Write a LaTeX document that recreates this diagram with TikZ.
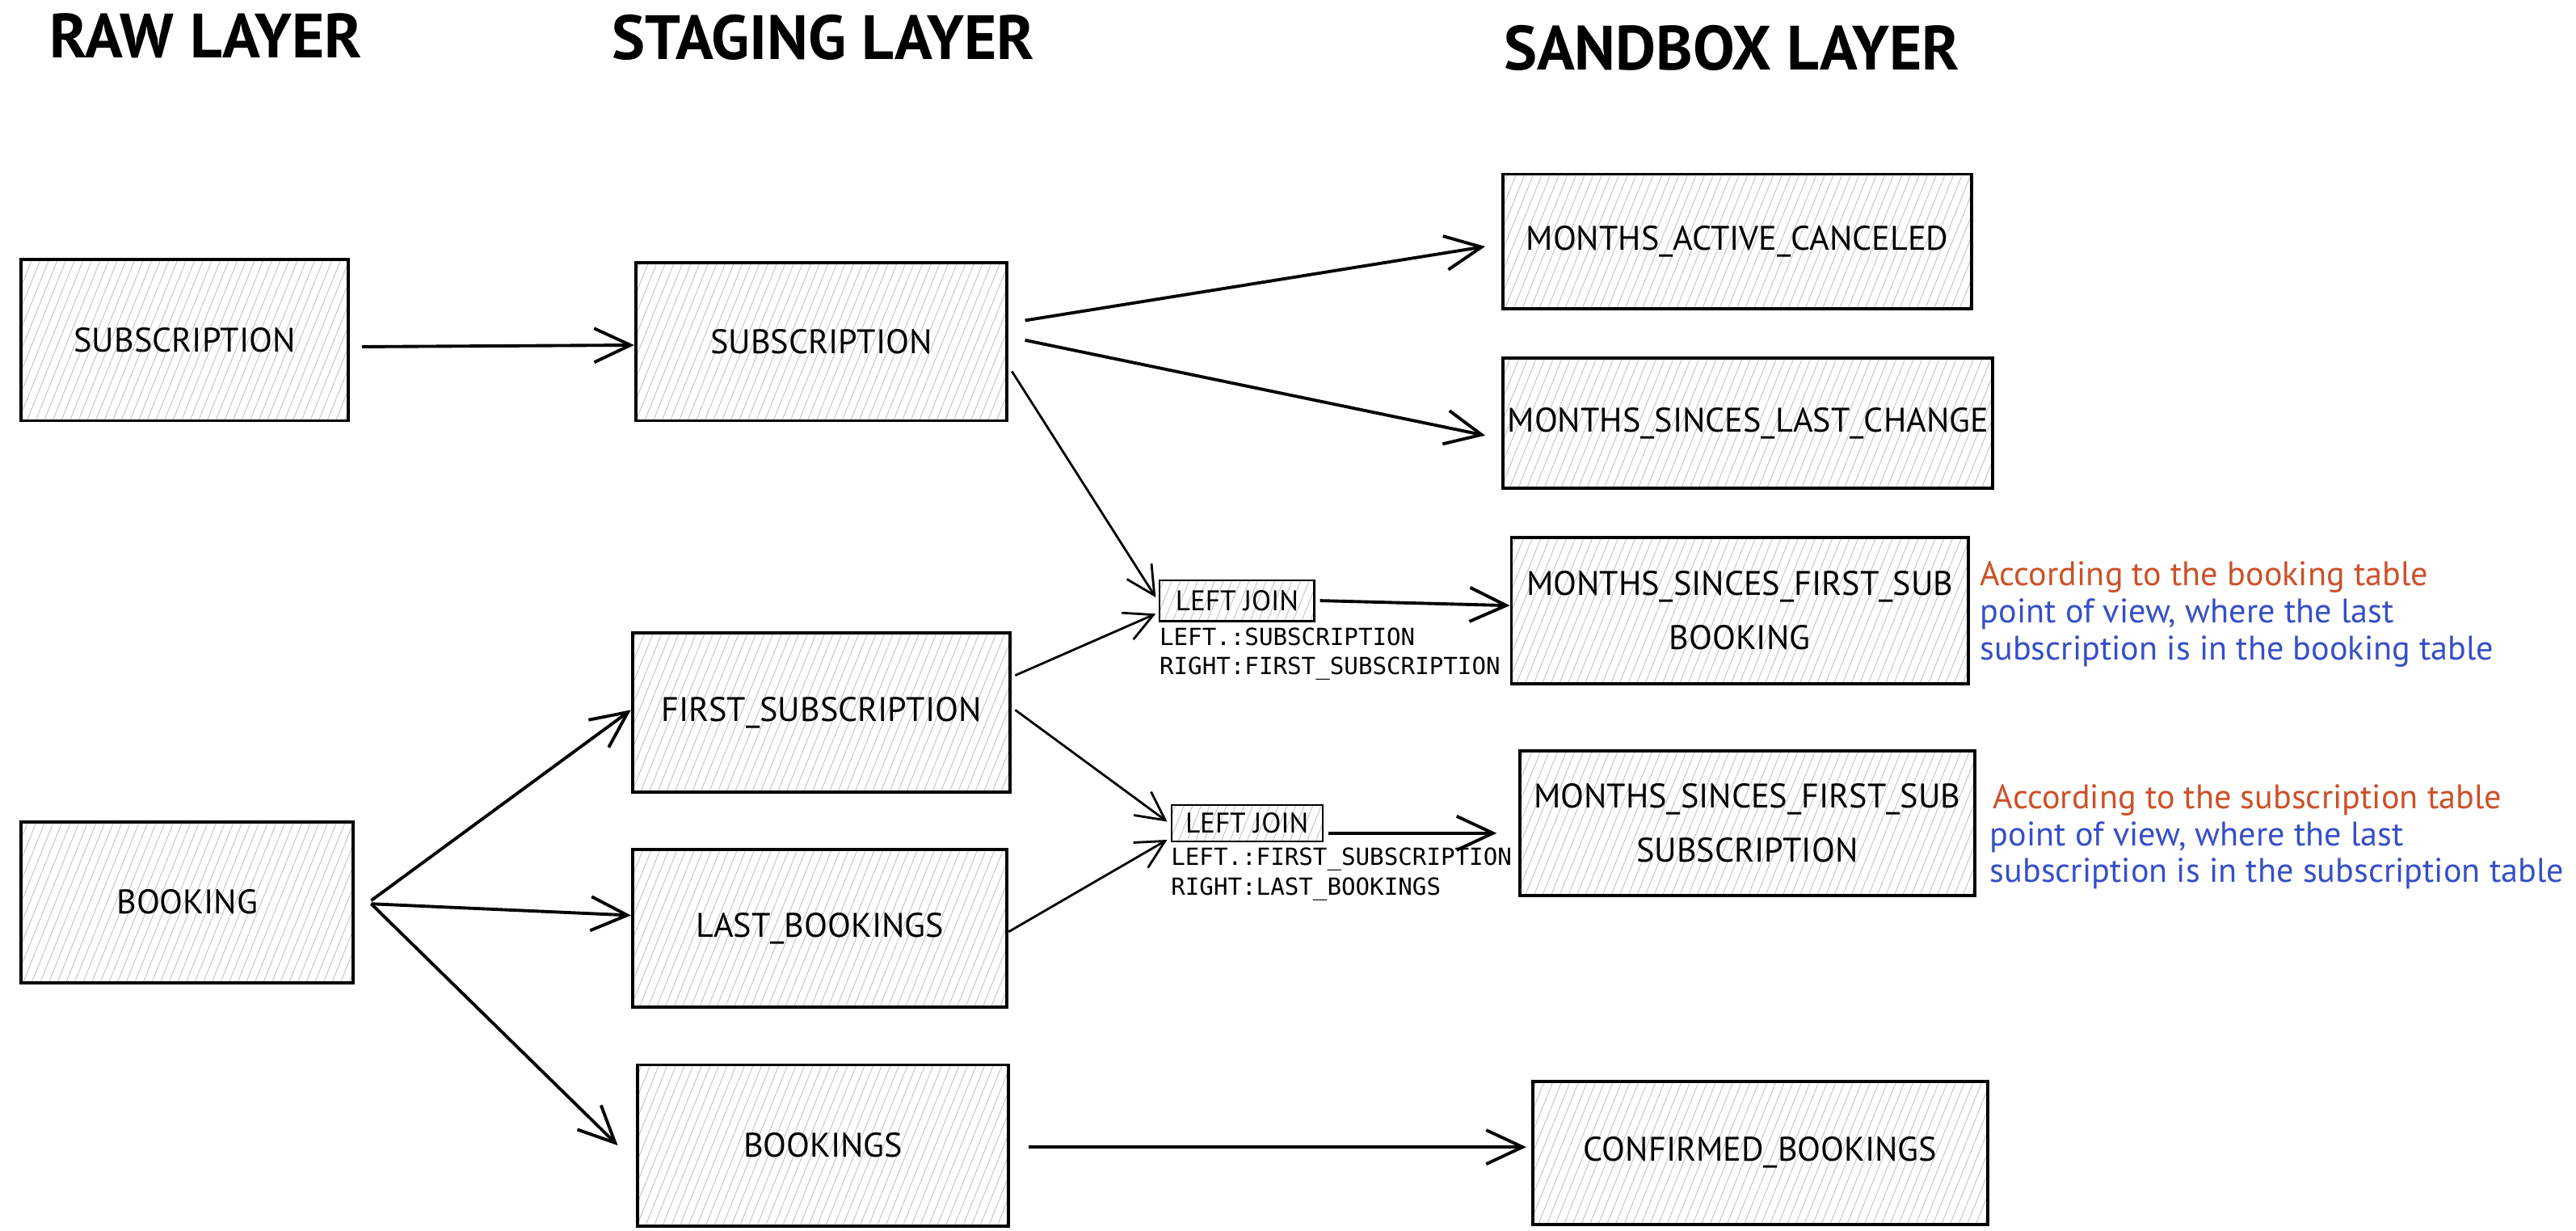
\documentclass[tikz,border=0pt]{standalone}
\usepackage{fontspec}
\setmainfont{PT Sans}
\newfontfamily\hand{PT Sans}
\newfontfamily\monof{DejaVu Sans Mono}
\usetikzlibrary{arrows.meta,patterns.meta}
\definecolor{hatch}{RGB}{196,201,208}
\definecolor{anorange}{RGB}{205,80,40}
\definecolor{anblue}{RGB}{54,79,199}
\begin{document}
\begin{tikzpicture}[x=0.020332cm,y=-0.020332cm,
  tbl/.style={draw=black, line width=1.1pt, pattern={Lines[angle=68,distance=2.8pt,line width=0.3pt]}, pattern color=hatch, inner sep=0pt, font=\hand\fontsize{12}{19}\selectfont, align=center},
  sz/.style 2 args={minimum width=#1*0.020332cm, minimum height=#2*0.020332cm},
  ljbox/.style={draw=black, line width=0.6pt, pattern={Lines[angle=68,distance=2.8pt,line width=0.3pt]}, pattern color=hatch, inner sep=0pt, font=\hand\fontsize{10}{11}\selectfont},
  arr/.style={-{Straight Barb[length=0.45cm,width=0.42cm,line width=1.1pt]}, line width=1.1pt},
  sarr/.style={-{Straight Barb[length=0.35cm,width=0.36cm,line width=0.8pt]}, line width=0.8pt},
  ttl/.style={font=\hand\fontsize{22}{26}\selectfont\bfseries, anchor=west, inner sep=0pt},
  mono/.style={font=\monof\fontsize{8.3}{10.4}\selectfont, align=left, anchor=north west, inner sep=0pt},
  note/.style={font=\hand\fontsize{12}{13}\selectfont, anchor=base west, inner sep=0pt}
]
\useasboundingbox (0,0) rectangle (1568,749);
% titles
\node[ttl] (t1) at (30,22) {RAW LAYER};
\node[ttl] (t2) at (372,23) {STAGING LAYER};
\node[ttl] (t3) at (915,29) {SANDBOX LAYER};
% raw
\node[tbl, sz={199}{98}] (rsub) at (112.5,207) {SUBSCRIPTION};
\node[tbl, sz={202}{98}] (rbook) at (114,549) {BOOKING};
% staging
\node[tbl, sz={226}{96}] (ssub) at (500,208) {SUBSCRIPTION};
\node[tbl, sz={230}{97}] (fsub) at (500,433.5) {FIRST\_SUBSCRIPTION};
\node[tbl, sz={228}{96}] (lbook) at (499,565) {LAST\_BOOKINGS};
\node[tbl, sz={226}{98}] (sbook) at (501,697) {BOOKINGS};
% sandbox
\node[tbl, sz={285}{82}] (mac) at (1057.5,147) {MONTHS\_ACTIVE\_CANCELED};
\node[tbl, sz={298}{79}] (mslc) at (1064,257.5) {MONTHS\_SINCES\_LAST\_CHANGE};
\node[tbl, sz={278}{89}] (mfsb) at (1059,371.5) {MONTHS\_SINCES\_FIRST\_SUB\\BOOKING};
\node[tbl, sz={277}{88}] (mfss) at (1063.5,501) {MONTHS\_SINCES\_FIRST\_SUB\\SUBSCRIPTION};
\node[tbl, sz={277}{87}] (cb) at (1071.5,701.5) {CONFIRMED\_BOOKINGS};
% joins
\node[ljbox, sz={94}{25}] (lj1) at (753,365.5) {LEFT JOIN};
\node[ljbox, sz={92}{22}] (lj2) at (759,501) {LEFT JOIN};
\node[mono] (m1) at ([shift={(0,3)}]lj1.south west) {LEFT.:SUBSCRIPTION\\RIGHT:FIRST\_SUBSCRIPTION};
\node[mono] (m2) at ([shift={(0,3)}]lj2.south west) {LEFT.:FIRST\_SUBSCRIPTION\\RIGHT:LAST\_BOOKINGS};
% notes
\node[note, text=anorange] (n1a) at (1205,356.5) {According to the booking table};
\node[note, text=anblue] (n1b) at (1205,379) {point of view, where the last};
\node[note, text=anblue] (n1c) at (1205,401.5) {subscription is in the booking table};
\node[note, text=anorange] (n2a) at (1213,492) {According to the subscription table};
\node[note, text=anblue] (n2b) at (1211,514.5) {point of view, where the last};
\node[note, text=anblue] (n2c) at (1211,537) {subscription is in the subscription table};
% arrows
\draw[arr] ([shift={(8,4)}]rsub.east) -- ([shift={(0,2)}]ssub.west);
\draw[arr] ([shift={(10,-13)}]ssub.east) -- ([shift={(-10,3)}]mac.west);
\draw[arr] ([shift={(10,-1)}]ssub.east) -- ([shift={(-10,7.5)}]mslc.west);
\draw[sarr] ([shift={(2,18)}]ssub.east) -- ([shift={(-2,-2)}]lj1.west);
\draw[sarr] ([shift={(2,-22.5)}]fsub.east) -- ([shift={(-2,8)}]lj1.west);
\draw[arr] ([shift={(3,0)}]lj1.east) -- ([shift={(0,-3)}]mfsb.west);
\draw[sarr] ([shift={(2,-1.5)}]fsub.east) -- ([shift={(-2,-1)}]lj2.west);
\draw[sarr] ([shift={(0,2)}]lbook.east) -- ([shift={(-2,10)}]lj2.west);
\draw[arr] ([shift={(3,6)}]lj2.east) -- ([shift={(-13,6)}]mfss.west);
\draw[arr] ([shift={(10,-1)}]rbook.east) -- ([shift={(0,-1.5)}]fsub.west);
\draw[arr] ([shift={(10,1)}]rbook.east) -- ([shift={(0,-8)}]lbook.west);
\draw[arr] ([shift={(10,1)}]rbook.east) -- ([shift={(-11,0)}]sbook.west);
\draw[arr] ([shift={(11,1)}]sbook.east) -- ([shift={(-3,-3.5)}]cb.west);
\end{tikzpicture}
\end{document}
